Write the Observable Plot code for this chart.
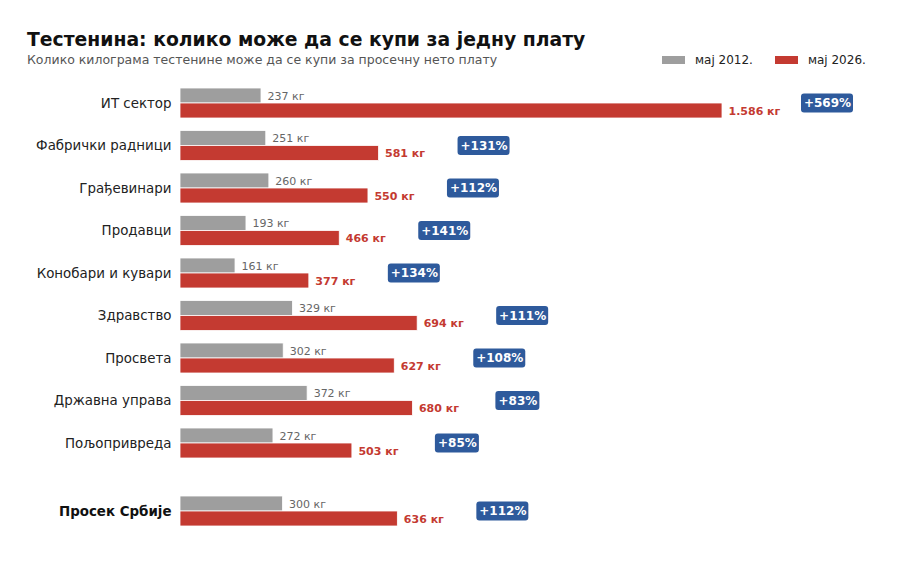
<!DOCTYPE html>
<html>
<head>
<meta charset="utf-8">
<script src="https://cdn.jsdelivr.net/npm/d3@7"></script>
<script src="https://cdn.jsdelivr.net/npm/@observablehq/plot@0.6"></script>
<style>
  html, body { margin: 0; padding: 0; background: #fff; }
  body { width: 900px; height: 561px; position: relative; overflow: hidden; font-family: "DejaVu Sans", sans-serif; }
  #title { position: absolute; left: 27px; top: 29px; font-size: 18.8px; font-weight: bold; color: #111; white-space: nowrap; }
  #subtitle { position: absolute; left: 27px; top: 52px; font-size: 12.5px; color: #555; white-space: nowrap; }
  #legend { position: absolute; left: 662px; top: 53px; font-size: 12px; color: #222; white-space: nowrap; }
  .sw { display: inline-block; width: 23px; height: 8px; vertical-align: middle; margin-right: 10px; position: relative; top: -1px; }
  .item { display: inline-block; margin-right: 22px; }
  #chart { position: absolute; left: 0; top: 75px; }
</style>
</head>
<body>
<div id="title">Тестенина: колико може да се купи за једну плату</div>
<div id="subtitle">Колико килограма тестенине може да се купи за просечну нето плату</div>
<div id="legend"><span class="item"><span class="sw" style="background:#9e9e9e"></span>мај 2012.</span><span class="item"><span class="sw" style="background:#c43a31"></span>мај 2026.</span></div>
<div id="chart"></div>
<script>
const categories = ["ИТ сектор", "Фабрички радници", "Грађевинари", "Продавци", "Конобари и кувари", "Здравство", "Просвета", "Државна управа", "Пољопривреда", "Просек Србије"];
const rowPos = [0, 1, 2, 3, 4, 5, 6, 7, 8, 9.6];
const kg2012 = [237, 251, 260, 193, 161, 329, 302, 372, 272, 300];
const kg2026 = [1586, 581, 550, 466, 377, 694, 627, 680, 503, 636];
const changeLabels = ["+569%", "+131%", "+112%", "+141%", "+134%", "+111%", "+108%", "+83%", "+85%", "+112%"];

const xDomain = [0, 1586], xRange = [180, 722];
const kgPerPx = (xDomain[1] - xDomain[0]) / (xRange[1] - xRange[0]);
const rowPx = 42.5;
const yDomain = [0, 9.6], yRange = [28, 28 + 9.6 * rowPx];
const half = 15 / rowPx;

const fmt = v => d3.format(",")(v).replace(/,/g, ".") + " кг";

const data = categories.map((c, i) => ({
  cat: c, pos: rowPos[i], a: kg2012[i], b: kg2026[i], pct: changeLabels[i], bold: i === categories.length - 1
}));

const badgeCenter = d => d.b + 105 * kgPerPx;
const badgeHalfW = d => (8 * d.pct.length + 12) / 2 * kgPerPx;
const badgeHalfH = 9.5 / rowPx;

const chart = Plot.plot({
  width: 900,
  height: 486,
  style: { fontFamily: "DejaVu Sans, sans-serif", background: "transparent" },
  x: { domain: xDomain, range: xRange, axis: null },
  y: { domain: yDomain, range: yRange, axis: null },
  marks: [
    Plot.rect(data, { x1: 0, x2: "a", y1: d => d.pos - half, y2: d => d.pos, fill: "#9e9e9e", stroke: "#fff", strokeWidth: 0.8 }),
    Plot.rect(data, { x1: 0, x2: "b", y1: d => d.pos, y2: d => d.pos + half, fill: "#c43a31", stroke: "#fff", strokeWidth: 0.8 }),
    Plot.text(data, { x: "a", y: d => d.pos - half / 2, text: d => fmt(d.a), dx: 6, textAnchor: "start", fill: "#666", fontSize: 11 }),
    Plot.text(data, { x: "b", y: d => d.pos + half / 2, text: d => fmt(d.b), dx: 6, textAnchor: "start", fill: "#c43a31", fontSize: 11, fontWeight: "bold" }),
    Plot.rect(data, { x1: d => badgeCenter(d) - badgeHalfW(d), x2: d => badgeCenter(d) + badgeHalfW(d), y1: d => d.pos - badgeHalfH, y2: d => d.pos + badgeHalfH, fill: "#2e5a9c", rx: 3, ry: 3 }),
    Plot.text(data, { x: badgeCenter, y: "pos", text: "pct", fill: "#fff", fontSize: 12, fontWeight: "bold" }),
    Plot.text(data.filter(d => !d.bold), { x: 0, y: "pos", text: "cat", dx: -9, textAnchor: "end", fill: "#222", fontSize: 13.4 }),
    Plot.text(data.filter(d => d.bold), { x: 0, y: "pos", text: "cat", dx: -9, textAnchor: "end", fill: "#111", fontSize: 13.4, fontWeight: "bold" })
  ]
});
document.getElementById("chart").appendChild(chart);
</script>
</body>
</html>
